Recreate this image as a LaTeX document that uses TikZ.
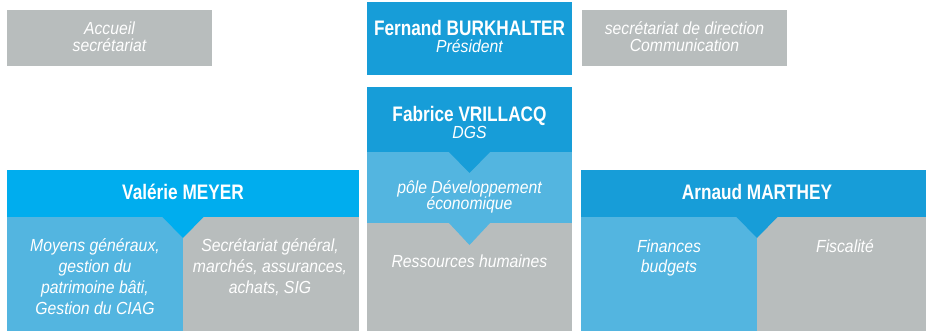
\documentclass[tikz,border=0pt]{standalone}
\usepackage{fontspec}
\setmainfont{Liberation Sans}[FakeStretch=0.82]
\newfontfamily\itf{Liberation Sans}[FakeStretch=0.9]
\usetikzlibrary{positioning}
\definecolor{bleu}{HTML}{179DD8}
\definecolor{cyanv}{HTML}{00ADEE}
\definecolor{clair}{HTML}{53B5E0}
\definecolor{gris}{HTML}{B8BDBD}
\tikzset{
    boite/.style={fill=#1, draw=none, inner sep=0pt, outer sep=0pt, anchor=north west},
    nom/.style={text=white, align=center, inner sep=0pt, anchor=base,
        font=\bfseries\fontsize{21}{17}\selectfont},
    fct/.style={text=white, align=center, inner sep=0pt, anchor=base,
        font=\itf\itshape\fontsize{17.5}{#1}\selectfont},
    fct/.default=17,
    pointe/.style={fill=#1, draw=none}
}
\newcommand{\sousnom}[1]{{\itf\mdseries\itshape\fontsize{17.5}{17}\selectfont #1}}

\begin{document}
\begin{tikzpicture}[x=1pt, y=-1pt]
    \def \W {205}
    \def \C {176}
    \useasboundingbox (0,0) rectangle (926,331);
    \node[boite=gris, minimum width=\W pt, minimum height=56pt] (acc) at (7,10) {};
    \node[boite=bleu, minimum width=\W pt, minimum height=73pt] (pres) at (367,2) {};
    \node[boite=gris, minimum width=\W pt, minimum height=56pt] (dir) at (582,10) {};
    \node[boite=bleu, minimum width=\W pt, minimum height=65pt] (dgs) at (367,87) {};
    \node[boite=clair, minimum width=\W pt, minimum height=71pt] (pole) at (367,152) {};
    \node[boite=gris, minimum width=\W pt, minimum height=108pt] (rh) at (367,223) {};
    \node[boite=cyanv, minimum width=2*\C pt, minimum height=47pt] (vm) at (7,170) {};
    \node[boite=clair, minimum width=\C pt, minimum height=114pt] (mg) at (7,217) {};
    \node[boite=gris, minimum width=\C pt, minimum height=114pt] (sg) at (183,217) {};
    \node[boite=bleu, minimum width=2*\C pt, minimum height=47pt] (am) at (581,170) {};
    \node[boite=clair, minimum width=\C pt, minimum height=114pt] (fin) at (581,217) {};
    \node[boite=gris, minimum width=\C pt, minimum height=114pt] (fis) at (757,217) {};
    \fill[pointe=bleu] ([xshift=-21pt, yshift=0.5pt]dgs.south) -- ([xshift=21pt, yshift=0.5pt]dgs.south) -- ([yshift=-21pt]dgs.south) -- cycle;
    \fill[pointe=clair] ([xshift=-21pt, yshift=0.5pt]pole.south) -- ([xshift=21pt, yshift=0.5pt]pole.south) -- ([yshift=-22pt]pole.south) -- cycle;
    \fill[pointe=cyanv] ([xshift=-21pt, yshift=0.5pt]vm.south) -- ([xshift=21pt, yshift=0.5pt]vm.south) -- ([yshift=-21pt]vm.south) -- cycle;
    \fill[pointe=bleu] ([xshift=-21pt, yshift=0.5pt]am.south) -- ([xshift=21pt, yshift=0.5pt]am.south) -- ([yshift=-21pt]am.south) -- cycle;
    % les positions donnent la ligne de base de la derniere ligne
    \node[fct] (acct) at (109.5,52) {Accueil\\secrétariat};
    \node[nom] (prest) at (469.5,53) {Fernand BURKHALTER\\\sousnom{Président}};
    \node[fct] (dirt) at (684.5,52) {secrétariat de direction\\Communication};
    \node[nom] (dgst) at (469.5,139) {Fabrice VRILLACQ\\\sousnom{DGS}};
    \node[nom] (vmt) at (183,200) {Valérie MEYER};
    \node[fct] (polet) at (469.5,210) {pôle Développement\\économique};
    \node[nom] (amt) at (757,200) {Arnaud MARTHEY};
    \node[fct] (rht) at (469.5,267) {Ressources humaines};
    \node[fct=21] (mgt) at (95,314) {Moyens généraux,\\gestion du\\patrimoine bâti,\\Gestion du CIAG};
    \node[fct=21] (sgt) at (270,293) {Secrétariat général,\\marchés, assurances,\\achats, SIG};
    \node[fct=20] (fint) at (669,272) {Finances\\budgets};
    \node[fct] (fist) at (845,252) {Fiscalité};
\end{tikzpicture}
\end{document}
